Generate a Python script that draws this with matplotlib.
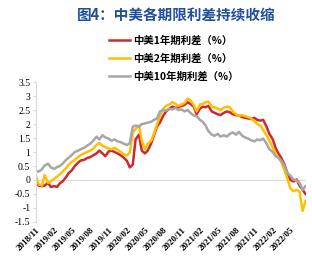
import pandas as pd
import matplotlib
matplotlib.use('Agg')
import matplotlib.pyplot as plt

plt.rcParams['font.family'] = ['Noto Sans CJK SC', 'DejaVu Sans']

# half-month sampling, 2018-11-01 .. 2022-07-15
dates = pd.date_range('2018-11-01', periods=90, freq='SMS')

spread_10y = [0.32, 0.30, 0.38, 0.52, 0.58, 0.45, 0.40, 0.46, 0.50, 0.58,
              0.72, 0.80, 0.90, 1.00, 1.05, 1.10, 1.15, 1.22, 1.30, 1.40,
              1.55, 1.45, 1.60, 1.52, 1.48, 1.40, 1.45, 1.38, 1.35, 1.30,
              1.25, 1.32, 1.90, 1.95, 1.90, 2.00, 2.02, 2.05, 2.08, 2.15,
              2.20, 2.45, 2.50, 2.48, 2.55, 2.52, 2.58, 2.50, 2.52, 2.45,
              2.50, 2.40, 2.30, 2.28, 2.15, 2.08, 1.95, 1.75, 1.62, 1.58,
              1.65, 1.55, 1.60, 1.55, 1.65, 1.70, 1.62, 1.72, 1.58, 1.52,
              1.48, 1.42, 1.38, 1.45, 1.42, 1.48, 1.30, 1.10, 1.00, 0.85,
              0.80, 0.70, 0.50, 0.25, 0.15, 0.02, -0.02, -0.10, -0.35, -0.22]

spread_2y = [0.14, -0.15, -0.20, 0.18, -0.10, -0.05, 0.05, 0.12, 0.20, 0.30,
             0.42, 0.55, 0.65, 0.72, 0.82, 0.90, 0.95, 1.00, 1.05, 1.12,
             1.25, 1.32, 1.22, 1.18, 1.12, 1.10, 1.15, 1.08, 1.00, 0.92,
             0.88, 0.98, 1.70, 1.82, 1.95, 1.40, 1.10, 1.30, 1.40, 1.65,
             2.00, 2.30, 2.55, 2.65, 2.70, 2.78, 2.72, 2.65, 2.70, 2.75,
             2.90, 2.85, 2.68, 2.45, 2.70, 2.72, 2.78, 2.80, 2.62, 2.60,
             2.55, 2.50, 2.58, 2.62, 2.60, 2.45, 2.35, 2.30, 2.32, 2.28,
             2.25, 2.20, 2.10, 2.00, 1.95, 1.78, 1.60, 1.40, 1.15, 0.95,
             0.78, 0.65, 0.35, 0.05, -0.30, -0.40, -0.35, -0.42, -1.10, -0.75]

spread_1y = [-0.04, -0.20, -0.22, -0.20, -0.10, -0.25, -0.22, -0.25, -0.12, -0.05,
             0.10, 0.25, 0.35, 0.50, 0.62, 0.70, 0.72, 0.78, 0.82, 0.88,
             0.95, 1.05, 0.95, 0.85, 1.02, 1.05, 1.00, 0.95, 0.88, 0.80,
             0.68, 0.45, 0.55, 1.45, 1.62, 1.05, 0.95, 1.05, 1.30, 1.60,
             1.92, 2.05, 2.30, 2.45, 2.55, 2.62, 2.58, 2.60, 2.65, 2.68,
             2.78, 2.72, 2.62, 2.35, 2.55, 2.62, 2.60, 2.65, 2.45, 2.40,
             2.35, 2.32, 2.40, 2.45, 2.42, 2.35, 2.32, 2.30, 2.25, 2.22,
             2.20, 2.18, 2.22, 2.15, 2.12, 2.15, 1.90, 1.65, 1.45, 1.15,
             0.95, 0.80, 0.55, 0.25, 0.00, -0.05, 0.02, -0.20, -0.35, -0.50]

labels = ['中美1年期利差（%）', '中美2年期利差（%）', '中美10年期利差（%）']
colors = ['#D0282E', '#FFC000', '#A6A6A6']
yticks = [3.5, 3, 2.5, 2, 1.5, 1, 0.5, 0, -0.5, -1, -1.5]
xticks = pd.date_range('2018-11-01', '2022-05-01', freq='3MS')

fig = plt.figure(figsize=(3.12, 2.63), dpi=100)
ax = fig.add_axes([0.115, 0.156, 0.866, 0.532])

for vals, lab, c in zip([spread_1y, spread_2y, spread_10y], labels, colors):
    ax.plot(dates, vals, color=c, lw=1.8, label=lab)

ax.axhline(0, color='#D9D9D9', lw=0.8, zorder=0)
ax.set_ylim(-1.5, 3.5)
ax.set_xlim(pd.Timestamp('2018-11-01'), pd.Timestamp('2022-07-18'))
ax.set_yticks(yticks)
ax.set_yticklabels([f'{v:g}' for v in yticks], family='Liberation Serif', fontsize=7)
ax.set_xticks(xticks)
ax.set_xticklabels([d.strftime('%Y/%m') for d in xticks], rotation=45,
                   ha='right', rotation_mode='anchor',
                   family='Liberation Serif', fontsize=6.5, weight='bold')
ax.tick_params(axis='x', length=0, pad=3)
ax.tick_params(axis='y', length=2, color='#D9D9D9', pad=2)
for s in ['top', 'right', 'bottom']:
    ax.spines[s].set_visible(False)
ax.spines['left'].set_color('#D9D9D9')

fig.text(0.565, 0.945, '图4：中美各期限利差持续收缩', ha='center', va='center',
         fontsize=10.5, weight='bold', color='#1F4E9C')
fig.legend(loc='upper left', bbox_to_anchor=(0.335, 0.88), frameon=False,
           prop={'family': ['Noto Sans CJK SC', 'DejaVu Sans'], 'size': 7.5, 'weight': 'bold'},
           handlelength=2.0, handletextpad=0.3, labelspacing=0.75, borderaxespad=0)

plt.savefig('out.png', dpi=100)
